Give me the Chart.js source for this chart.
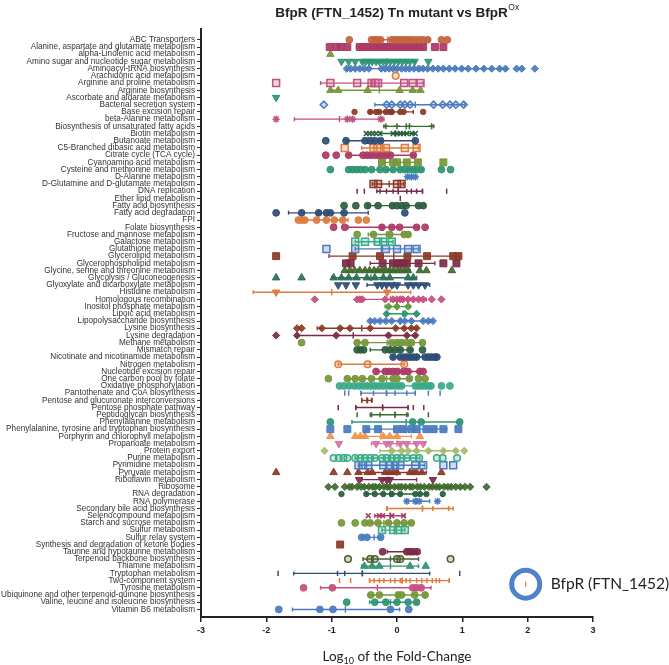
<!DOCTYPE html>
<html>
<head>
<meta charset="utf-8">
<script src="https://cdn.jsdelivr.net/npm/chart.js@4.4.1/dist/chart.umd.min.js"></script>
<style>
  html, body { margin: 0; padding: 0; background: #fff; }
</style>
</head>
<body>
<canvas id="myChart" width="669" height="665"></canvas>
<script>
const pathways = [
  'ABC Transporters', 'Alanine, aspartate and glutamate metabolism', 'alpha-Linolenic acid metabolism',
  'Amino sugar and nucleotide sugar metabolism', 'Aminoacyl-tRNA biosynthesis', 'Arachidonic acid metabolism',
  'Arginine and proline metabolism', 'Arginine biosynthesis', 'Ascorbate and aldarate metabolism',
  'Bacterial secretion system', 'Base excision repair', 'beta-Alanine metabolism',
  'Biosynthesis of unsaturated fatty acids', 'Biotin metabolism', 'Butanoate metabolism',
  'C5-Branched dibasic acid metabolism', 'Citrate cycle (TCA cycle)', 'Cyanoamino acid metabolism',
  'Cysteine and methionine metabolism', 'D-Alanine metabolism', 'D-Glutamine and D-glutamate metabolism',
  'DNA replication', 'Ether lipid metabolism', 'Fatty acid biosynthesis', 'Fatty acid degradation', 'FPI',
  'Folate biosynthesis', 'Fructose and mannose metabolism', 'Galactose metabolism', 'Glutathione metabolism',
  'Glycerolipid metabolism', 'Glycerophospholipid metabolism', 'Glycine, serine and threonine metabolism',
  'Glycolysis / Gluconeogenesis', 'Glyoxylate and dicarboxylate metabolism', 'Histidine metabolism',
  'Homologous recombination', 'Inositol phosphate metabolism', 'Lipoic acid metabolism',
  'Lipopolysaccharide biosynthesis', 'Lysine biosynthesis', 'Lysine degradation', 'Methane metabolism',
  'Mismatch repair', 'Nicotinate and nicotinamide metabolism', 'Nitrogen metabolism',
  'Nucleotide excision repair', 'One carbon pool by folate', 'Oxidative phosphorylation',
  'Pantothenate and CoA biosynthesis', 'Pentose and glucuronate interconversions', 'Pentose phosphate pathway',
  'Peptidoglycan biosynthesis', 'Phenylalanine metabolism', 'Phenylalanine, tyrosine and tryptophan biosynthesis',
  'Porphyrin and chlorophyll metabolism', 'Propanoate metabolism', 'Protein export', 'Purine metabolism',
  'Pyrimidine metabolism', 'Pyruvate metabolism', 'Riboflavin metabolism', 'Ribosome', 'RNA degradation',
  'RNA polymerase', 'Secondary bile acid biosynthesis', 'Selenocompound metabolism',
  'Starch and sucrose metabolism', 'Sulfur metabolism', 'Sulfur relay system',
  'Synthesis and degradation of ketone bodies', 'Taurine and hypotaurine metabolism',
  'Terpenoid backbone biosynthesis', 'Thiamine metabolism', 'Tryptophan metabolism', 'Two-component system',
  'Tyrosine metabolism', 'Ubiquinone and other terpenoid-quinone biosynthesis',
  'Valine, leucine and isoleucine biosynthesis', 'Vitamin B6 metabolism'
];

// log10 fold-change of each gene, one list per pathway
const foldChanges = [
  [-0.73, -0.39, -0.34, -0.3, -0.25, -0.08, -0.03, 0.02, 0.07, 0.12, 0.17, 0.22, 0.28, 0.34, 0.4, 0.47, 0.68, 0.77],
  [-1.03, -0.92, -0.86, -0.76, -0.57, -0.52, -0.47, -0.42, -0.36, -0.3, -0.25, -0.18, -0.12, -0.06, 0.0, 0.06, 0.12, 0.18, 0.24, 0.3, 0.36, 0.4, 0.58, 0.71],
  [-1.02],
  [-0.85, -0.74, -0.64, -0.53, -0.48, -0.43, -0.38, -0.32, -0.27, -0.21, -0.16, -0.1, -0.04, 0.02, 0.08, 0.14, 0.2, 0.27, 0.48],
  [-0.77, -0.71, -0.64, -0.57, -0.5, -0.43, -0.24, -0.18, -0.12, -0.06, 0.0, 0.07, 0.13, 0.19, 0.26, 0.33, 0.4, 0.47, 0.55, 0.63, 0.71, 0.8, 0.89, 0.99, 1.09, 1.21, 1.33, 1.45, 1.57, 1.66, 1.83, 1.91, 2.11],
  [-0.02],
  [-1.85, -1.02, -0.61, -0.39, -0.33, -0.29, 0.11, 0.24, 0.36],
  [-1.02, -0.9, -0.45, 0.04, 0.24, 0.36],
  [-1.85],
  [-1.12, -0.16, -0.08, 0.05, 0.12, 0.2, 0.56, 0.7, 0.81, 0.9, 1.02],
  [-0.65, -0.41, -0.32, -0.27, -0.17, -0.11, -0.08, 0.05, 0.1, 0.4],
  [-1.85, -0.76, -0.68, -0.25],
  [-0.17, 0.0, 0.19, 0.53],
  [-0.47, -0.42, -0.37, -0.32, -0.26, -0.06, 0.0, 0.05, 0.1, 0.15, 0.23, 0.28],
  [-1.09, -0.78, -0.49, -0.41, -0.34, -0.25, 0.28],
  [-0.8, -0.36, -0.3, -0.17, 0.12, 0.3],
  [-1.09, -0.93, -0.74, -0.52, -0.46, -0.4, -0.34, -0.28, -0.22, -0.16, -0.1, 0.25],
  [-0.23, -0.06, 0.0, 0.15, 0.32, 0.71],
  [-1.02, -0.74, -0.68, -0.62, -0.56, -0.49, -0.39, -0.26, -0.17, -0.06, 0.05, 0.12, 0.18, 0.25, 0.3, 0.37, 0.68, 0.82],
  [0.16, 0.22, 0.28],
  [-0.36, -0.29, 0.0, 0.07],
  [-0.61, -0.5, -0.26, -0.16, -0.06, 0.02, 0.15, 0.22, 0.3, 0.39, 0.76],
  [0.05],
  [-0.81, -0.63, -0.45, -0.29, -0.07, 0.0, 0.07, 0.14, 0.33, 0.4],
  [-1.85, -1.46, -1.2, -1.08, -1.02, -0.81, 0.12],
  [-1.51, -1.46, -1.41, -1.23, -1.08, -0.96, -0.83, -0.59, -0.47],
  [-0.97, -0.8, -0.23, -0.08, 0.04, 0.3, 0.43],
  [-0.61, -0.36, -0.11, 0.11, 0.17],
  [-0.64, -0.49, -0.29, -0.21, -0.08],
  [-1.08, -0.64, -0.17, 0.0, 0.17, 0.3],
  [-1.85, -0.68, -0.26, 0.16, 0.46, 0.86, 0.94],
  [-0.78, -0.71, -0.22, -0.06, 0.0, 0.05, 0.1, 0.15, 0.33, 0.71, 0.91],
  [-0.8, -0.72, -0.65, -0.57, -0.49, -0.42, -0.35, -0.29, -0.23, -0.17, -0.11, -0.05, 0.01, 0.06, 0.12, 0.17, 0.35, 0.45, 0.84],
  [-1.85, -1.46, -0.97, -0.85, -0.74, -0.62, -0.46, -0.34, -0.21, -0.11, 0.17, 0.25],
  [-0.9, -0.78, -0.63, -0.3, -0.23, -0.16, -0.08, 0.0, 0.17, 0.25, 0.33, 0.43],
  [-1.85, -0.15],
  [-1.26, -0.61, -0.57, -0.53, -0.18, -0.06, 0.0, 0.05, 0.09, 0.17, 0.25, 0.33, 0.4, 0.53, 0.68],
  [-0.13, 0.0, 0.17],
  [-0.16, 0.12, 0.3],
  [-0.41, -0.34, -0.26, -0.17, -0.08, 0.05, 0.12, 0.22, 0.4, 0.48, 0.55],
  [-1.53, -1.46, -1.15, -0.87, -0.72, -0.41, -0.02, 0.11, 0.22, 0.3],
  [-1.85, -1.53, -0.93, -0.13, 0.15, 0.28],
  [-1.46, -0.61, -0.49, -0.08, 0.0, 0.07, 0.15, 0.22, 0.39],
  [-0.61, -0.56, -0.51, -0.18, -0.11, -0.03, 0.05, 0.2, 0.39],
  [-0.06, 0.05, 0.1, 0.15, 0.2, 0.25, 0.3, 0.43, 0.48, 0.53, 0.58, 0.61],
  [-0.9, -0.45, 0.11],
  [-0.32, -0.18, -0.12, -0.06, 0.0, 0.1, 0.17, 0.35, 0.4],
  [-1.05, -0.76, -0.64, -0.53, -0.39, -0.23, -0.06, 0.0, 0.19, 0.33, 0.43],
  [-0.88, -0.81, -0.73, -0.65, -0.58, -0.52, -0.46, -0.4, -0.34, -0.28, -0.22, -0.16, -0.1, -0.04, 0.02, 0.07, 0.28, 0.33, 0.38, 0.43, 0.48, 0.52, 0.68, 0.81],
  [-0.8, -0.74, -0.55, -0.36, -0.16, -0.03, 0.15, 0.28, 0.48, 0.66],
  [-0.54, -0.45, -0.39],
  [-0.9, -0.63, -0.22, 0.17, 0.25, 0.41],
  [-0.61, -0.39, -0.26, -0.03, 0.15, 0.48],
  [-1.02, 0.24, 0.37, 0.96],
  [-1.02, -0.76, -0.47, -0.29, 0.0, 0.1, 0.22, 0.3, 0.45, 0.56, 0.71, 0.94],
  [-1.02, -0.64, -0.56, -0.49, -0.21, -0.11, 0.0, 0.35],
  [-0.89, -0.32, -0.16, -0.11, 0.05, 0.15, 0.3, 0.4],
  [-1.11, -0.08, 0.07, 0.17, 0.3, 0.48, 0.71, 0.9, 1.03],
  [-0.97, -0.89, -0.82, -0.76, -0.64, -0.56, -0.49, -0.41, -0.34, -0.23, -0.16, -0.08, 0.0, 0.07, 0.15, 0.25, 0.34, 0.61, 0.7, 0.92],
  [-0.59, -0.52, -0.44, -0.21, -0.12, -0.03, 0.05, 0.28, 0.4, 0.71, 0.86],
  [-1.85, -0.97, -0.76, -0.59, -0.45, -0.38, -0.18, -0.12, -0.06, 0.0, 0.2, 0.25, 0.3, 0.38, 0.68],
  [-0.58, -0.23, -0.16, -0.11, 0.55],
  [-1.05, -0.95, -0.8, -0.73, -0.69, -0.61, -0.55, -0.5, -0.43, -0.37, -0.33, -0.27, -0.2, -0.15, -0.11, -0.04, 0.02, 0.07, 0.13, 0.2, 0.24, 0.31, 0.36, 0.42, 0.49, 0.54, 0.6, 0.65, 0.72, 0.78, 0.83, 0.9, 0.97, 1.04, 1.12, 1.37],
  [-0.85, -0.47, -0.34, -0.21, -0.08, 0.05, 0.28, 0.35, 0.45, 0.7],
  [0.15, 0.28, 0.34, 0.62],
  [-0.15, 0.39, 0.55, 0.79],
  [-0.44, -0.27, -0.22, -0.08, 0.1],
  [-0.85, -0.64, -0.49, -0.41, -0.29, -0.13, 0.0, 0.11, 0.22],
  [-0.23, -0.06, 0.02, 0.12],
  [-0.54, -0.46, -0.25],
  [-0.87],
  [-0.22, 0.15, 0.2, 0.25, 0.31],
  [-0.75, -0.41, -0.34, 0.0, 0.05, 0.82],
  [-0.5, -0.38, -0.27, 0.2, 0.44],
  [-1.82, -0.91, -0.8, -0.53, 0.96],
  [-0.88, -0.71, -0.42, -0.35, -0.27, -0.2, -0.1, -0.03, 0.05, 0.08, 0.14, 0.2, 0.3, 0.38, 0.46, 0.54, 0.6, 0.65, 0.8],
  [-1.43, -0.99, 0.24, 0.3, 0.37],
  [-0.4, -0.27, 0.02, 0.07, 0.27, 0.43],
  [-0.77, -0.34, -0.17, 0.0, 0.17, 0.3],
  [-1.81, -1.18, -0.98, -0.1, 0.18]
];

// [low, mean, high] of the bar drawn through each pathway (null = no bar)
const spreads = [
  [-0.36, -0.14, 0.5], [-0.62, -0.15, 0.4], null, [-0.55, -0.15, 0.28], [-0.77, 0.35, 1.68],
  null, [-1.17, -0.4, 0.4], [-1.02, -0.27, 0.36], null, [-0.34, 0.28, 1.04],
  [-0.41, -0.07, 0.25], [-1.57, -0.88, -0.2], [-0.2, 0.14, 0.56], [-0.26, -0.02, 0.25], [-0.78, -0.45, 0.28],
  [-0.54, -0.2, 0.33], [-0.74, -0.3, 0.27], [-0.23, 0.05, 0.33], [-0.74, -0.15, 0.4], null,
  [-0.38, -0.12, 0.1], [-0.31, 0.02, 0.39], null, [-0.45, -0.05, 0.43], [-1.66, -1.2, -0.44],
  [-1.55, -1.1, -0.75], [-0.75, -0.23, 0.33], [-0.44, -0.16, 0.2], [-0.64, -0.35, -0.06], [-0.64, -0.24, 0.33],
  [-1.04, -0.05, 0.96], [-0.41, 0.05, 0.58], [-0.6, -0.2, 0.2], [-1.0, -0.4, 0.3], [-0.46, -0.05, 0.5],
  [-2.2, -1.0, 0.21], [-0.57, -0.1, 0.45], [-0.18, 0.0, 0.2], [-0.16, 0.09, 0.3], [-0.41, 0.06, 0.55],
  [-1.22, -0.54, 0.3], [-1.53, -0.67, 0.3], [-0.62, -0.15, 0.38], [-0.41, -0.1, 0.22], [-0.06, 0.3, 0.61],
  [-0.9, -0.41, 0.11], [-0.32, 0.03, 0.4], [-0.76, -0.16, 0.2], [-0.64, -0.1, 0.3], [-0.55, -0.16, 0.28],
  [-0.54, -0.46, -0.38], [-0.63, -0.22, 0.17], [-0.41, -0.03, 0.17], [-0.69, 0.14, 0.96], [-0.47, 0.11, 0.76],
  [-0.64, -0.25, 0.22], [-0.39, 0.0, 0.43], [-0.26, 0.3, 0.91], [-0.64, -0.1, 0.35], [-0.59, -0.05, 0.42],
  [-0.59, 0.0, 0.45], [-0.54, -0.13, 0.3], [-0.6, 0.05, 0.75], [-0.47, -0.1, 0.45], [0.15, 0.3, 0.5],
  [-0.16, 0.39, 0.86], [-0.34, -0.1, 0.12], [-0.45, -0.2, 0.2], [-0.23, -0.04, 0.12], [-0.54, -0.35, -0.25],
  null, [-0.15, 0.15, 0.31], [-0.52, -0.1, 0.33], [-0.54, -0.1, 0.33], [-1.58, -0.53, 0.5],
  [-0.42, 0.08, 0.8], [-1.17, -0.3, 0.52], [-0.44, 0.0, 0.43], [-0.42, -0.1, 0.3], [-1.6, -0.79, 0.04]
];

const xTicks = [-3, -2, -1, 0, 1, 2, 3];

// ---- styling ----
const palette = {
  sienna: '#C4643C', crimson: '#AD3A66', pink: '#C54F7E', olive: '#76973A', green: '#5E9A3C',
  teal: '#2F9474', mint: '#3AAA88', blue: '#4A7BBF', darkBlue: '#2E4D77', orange: '#E07B3E',
  lightOrange: '#F0954C', rose: '#D274A4', darkRed: '#8C3A26', darkCrimson: '#7C2B47',
  darkGreen: '#2C5E3F', forest: '#3F6A2E', lightOlive: '#A8BA6A', darkOlive: '#4D5F2C', darkTeal: '#2B6F57'
};

const rowMarkers = [
  'o sienna', 's crimson', '^ olive', 'v teal', 'd blue',
  'O orange', 'S pink', '^ olive', 'v teal', 'D blue',
  '. darkRed', '* pink', '+ forest', 'x darkGreen', 'o darkBlue',
  'S orange', 'o crimson', 's olive', 'o teal', '* blue',
  'S darkRed', '| darkCrimson', '| darkCrimson', 'o darkGreen', 'o darkBlue',
  'o orange', 'o crimson', 'o olive', 'S mint', 'S blue',
  's darkRed', 's darkCrimson', '^ forest', '^ darkTeal', 'v darkBlue',
  'v orange', 'd pink', 'd green', 'd teal', 'd blue',
  'd darkRed', 'd darkCrimson', 'o olive', 'o darkGreen', 'o darkBlue',
  'O orange', 'o crimson', 'o olive', 'o mint', '| blue',
  '| darkRed', '| darkCrimson', '| forest', 'o teal', 's blue',
  '^ lightOrange', 'v rose', 'd lightOlive', 'O mint', 'S blue',
  '^ darkRed', 'v darkCrimson', 'd forest', '. darkGreen', '* blue',
  '| orange', 'x crimson', 'o olive', 'S mint', 'o blue',
  's darkRed', 'o darkCrimson', 'O darkOlive', '^ teal', '| darkBlue',
  '| orange', 'o pink', 'o olive', 'o teal', 'o blue'
];

const shapes = {
  'o': { style: 'circle', r: 3.4 },
  '.': { style: 'circle', r: 2.7 },
  'O': { style: 'circle', r: 3.3, hollow: true },
  's': { style: 'rect', r: 4.9 },
  'S': { style: 'rect', r: 4.9, hollow: true },
  '^': { style: 'triangle', r: 4.3 },
  'v': { style: 'triangle', r: 4.3, rot: 180 },
  'd': { style: 'rectRot', r: 3.6 },
  'D': { style: 'rectRot', r: 3.6, hollow: true },
  '*': { style: 'star', r: 3.6, stroke: true },
  '+': { style: 'cross', r: 3, stroke: true },
  'x': { style: 'crossRot', r: 3.4, stroke: true },
  '|': { style: 'line', r: 2.6, rot: 90, stroke: true }
};

function alpha(hex, a) {
  const n = parseInt(hex.slice(1), 16);
  return `rgba(${n >> 16},${(n >> 8) & 255},${n & 255},${a})`;
}
const rowColor = i => palette[rowMarkers[i].split(' ')[1]];

const datasets = pathways.map((name, i) => {
  const sh = shapes[rowMarkers[i].split(' ')[0]];
  const c = rowColor(i);
  return {
    label: name,
    data: foldChanges[i].map(v => ({ x: v, y: i })),
    pointStyle: sh.style,
    pointRotation: sh.rot || 0,
    pointRadius: sh.r,
    pointBackgroundColor: sh.hollow ? alpha(c, 0.25) : alpha(c, 0.92),
    pointBorderColor: c,
    pointBorderWidth: sh.hollow || sh.stroke ? 1.5 : 1,
    showLine: false
  };
});

// mean bars with end caps, drawn under the markers
const spreadBars = {
  id: 'spreadBars',
  beforeDatasetsDraw(chart) {
    const { ctx, scales: { x, y } } = chart;
    ctx.save();
    ctx.lineWidth = 1.4;
    spreads.forEach((s, i) => {
      if (!s) return;
      const py = y.getPixelForValue(i);
      const [lo, mid, hi] = s.map(v => x.getPixelForValue(v));
      ctx.strokeStyle = rowColor(i);
      ctx.beginPath();
      ctx.moveTo(lo, py); ctx.lineTo(hi, py);
      ctx.moveTo(lo, py - 2); ctx.lineTo(lo, py + 2);
      ctx.moveTo(hi, py - 2); ctx.lineTo(hi, py + 2);
      ctx.moveTo(mid, py - 3.2); ctx.lineTo(mid, py + 3.2);
      ctx.stroke();
    });
    ctx.restore();
  }
};

// title with superscript, axis title with subscript, and the key
const texts = {
  id: 'texts',
  afterDraw(chart) {
    const { ctx, chartArea, scales: { x, y } } = chart;
    const cx = (chartArea.left + chartArea.right) / 2;
    ctx.save();
    ctx.fillStyle = '#222';
    ctx.textBaseline = 'alphabetic';

    const main = 'BfpR (FTN_1452) Tn mutant vs BfpR', sup = 'Ox';
    ctx.font = 'bold 13.5px "Liberation Sans", Arial';
    const w1 = ctx.measureText(main).width;
    ctx.font = '8.5px "Liberation Sans", Arial';
    const w2 = ctx.measureText(sup).width;
    let sx = cx - (w1 + w2) / 2;
    ctx.font = 'bold 13.5px "Liberation Sans", Arial';
    ctx.fillText(main, sx, 17);
    ctx.font = '8.5px "Liberation Sans", Arial';
    ctx.fillText(sup, sx + w1 + 0.5, 10);

    const a = 'Log', b = '10', c = ' of the Fold-Change';
    ctx.font = '13.5px Lato';
    const wa = ctx.measureText(a).width, wc = ctx.measureText(c).width;
    ctx.font = '9px Lato';
    const wb = ctx.measureText(b).width;
    sx = cx - (wa + wb + wc) / 2;
    ctx.font = '13.5px Lato';
    ctx.fillText(a, sx, 661);
    ctx.fillText(c, sx + wa + wb, 661);
    ctx.font = '9px Lato';
    ctx.fillText(b, sx + wa, 664);

    // key
    const kx = x.getPixelForValue(1.97), ky = y.getPixelForValue(75.5);
    ctx.strokeStyle = '#4F82C8';
    ctx.lineWidth = 5;
    ctx.beginPath();
    ctx.arc(kx, ky, 14, 0, Math.PI * 2);
    ctx.stroke();
    ctx.strokeStyle = palette.orange;
    ctx.lineWidth = 1.2;
    ctx.beginPath();
    ctx.moveTo(kx, ky - 2.5); ctx.lineTo(kx, ky + 2.5);
    ctx.stroke();
    ctx.font = '15.5px Lato';
    ctx.textBaseline = 'middle';
    ctx.fillStyle = '#222';
    ctx.fillText('BfpR (FTN_1452)', kx + 25, ky);
    ctx.restore();
  }
};

new Chart(document.getElementById('myChart'), {
  type: 'scatter',
  data: { datasets },
  options: {
    responsive: false,
    animation: false,
    events: [],
    layout: { padding: { top: 29, right: 76, bottom: 0, left: 0 } },
    plugins: { legend: { display: false }, tooltip: { enabled: false }, title: { display: false } },
    scales: {
      x: {
        type: 'linear', min: -3, max: 3,
        afterBuildTicks: s => { s.ticks = xTicks.map(v => ({ value: v })); },
        afterFit: s => { s.height = 48; },
        ticks: { color: '#222', padding: 3, font: { family: '"Liberation Sans"', size: 9, weight: 'bold' } },
        grid: { drawOnChartArea: false, tickLength: 5, color: '#222', lineWidth: 1.5 },
        border: { color: '#222', width: 2 }
      },
      y: {
        type: 'linear', reverse: true, min: -1.5, max: 80.05,
        afterBuildTicks: s => { s.ticks = pathways.map((_, i) => ({ value: i })); },
        afterFit: s => { s.width = 201; },
        ticks: {
          autoSkip: false, padding: 2, color: '#333',
          font: { family: '"Liberation Sans"', size: 8.2 },
          callback: v => pathways[v]
        },
        grid: { drawOnChartArea: false, tickLength: 4, color: '#333', lineWidth: 1 },
        border: { color: '#222', width: 2 }
      }
    }
  },
  plugins: [spreadBars, texts]
});
</script>
</body>
</html>
